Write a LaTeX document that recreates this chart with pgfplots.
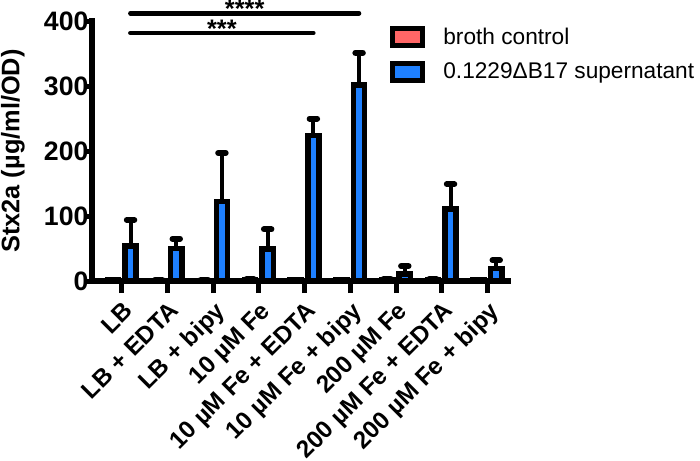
\documentclass[border=0pt]{standalone}
\usepackage{pgfplots}
\usepackage{pgfplotstable}
\pgfplotsset{compat=1.18}
\usepackage{fontspec}
\setmainfont{Liberation Sans}
\definecolor{brothred}{RGB}{255,102,102}
\definecolor{supblue}{RGB}{30,128,255}

\pgfplotstableread{
x y err
0 1.5 0.5
1 1.0 0.5
2 1.0 0.5
3 2.0 0.5
4 1.5 0.5
5 1.5 0.5
6 2.0 0.5
7 2.0 0.5
8 1.5 0.5
}\broth

\pgfplotstableread{
x y err
0 54 40
1 50 15
2 122 75
3 49 30.5
4 224 26
5 301.5 49.5
6 11 12
7 111 38
8 19 13
}\superdata

\pgfplotsset{boxlegend/.style={legend image code/.code={\draw[##1, line width=3.75pt, draw=black] (0pt,-6.25pt) rectangle (22.5pt,6.25pt); \path (34pt,0pt);}}}

\begin{document}
\begin{tikzpicture}
\begin{axis}[
  scale only axis, width=312pt, height=195pt,
  xmin=-0.65, xmax=8.45, ymin=0, ymax=400,
  axis x line=bottom, axis y line=left,
  axis line style={-, line width=4pt, black, line cap=rect},
  ybar, bar width=8.4pt,
  boxlegend,
  clip=false,
  /pgf/number format/assume math mode=true,
  xtick={0,...,8},
  xticklabels={LB, LB + EDTA, LB + bipy, 10 µM Fe, 10 µM Fe + EDTA, 10 µM Fe + bipy, 200 µM Fe, 200 µM Fe + EDTA, 200 µM Fe + bipy},
  xticklabel style={rotate=45, anchor=north east, font=\bfseries\fontsize{18.2}{20}\selectfont, inner sep=1pt, yshift=-3pt, xshift=-2.5pt},
  tick align=outside, major tick length=9pt,
  tick style={line width=3.75pt, black},
  ytick=\empty,
  extra y ticks={0,100,200,300,400},
  extra y tick style={major tick length=5.5pt},
  yticklabel style={font=\bfseries\fontsize{20}{22}\selectfont, inner sep=0pt, xshift=3pt},
  ylabel={Stx2a (µg/ml/OD)},
  ylabel style={font=\bfseries\fontsize{19}{21}\selectfont, at={(axis description cs:-0.19,0.5)}, anchor=center},
  legend style={draw=none, fill=none, at={(rel axis cs:0.716,0.985)}, anchor=north west, font=\fontsize{17}{20}\selectfont, row sep=8.5pt, inner sep=0pt},
  legend cell align=left,
  error bars/y dir=plus, error bars/y explicit,
  error bars/error bar style={line width=3pt, black},
  error bars/error mark options={rotate=90, line width=4.5pt, mark size=2.8pt, line cap=round, black},
]
\addplot[fill=brothred, draw=black, line width=4.1pt, bar shift=-6.6pt] table[x=x, y=y, y error=err] {\broth};
\addlegendentry{broth control}
\addplot[fill=supblue, draw=black, line width=4.1pt, bar shift=6.6pt] table[x=x, y=y, y error=err] {\superdata};
\addlegendentry{0.1229ΔB17 supernatant}

\draw[line width=3.5pt, line cap=round] (axis cs:0.19,381.5) -- (axis cs:4.19,381.5);
\node[anchor=base, yshift=-3.5pt, font=\bfseries\fontsize{19}{20}\selectfont, inner sep=0pt] at (axis cs:2.19,381.5) {***};
\draw[line width=3.5pt, line cap=round] (axis cs:0.19,412) -- (axis cs:5.19,412);
\node[anchor=base, yshift=-3.5pt, font=\bfseries\fontsize{19}{20}\selectfont, inner sep=0pt] at (axis cs:2.69,412) {****};

\coordinate (bbsw) at (rel axis cs:-0.2212,-0.6885);
\coordinate (bbne) at (rel axis cs:1.4615,1.0808);
\end{axis}
\pgfresetboundingbox
\useasboundingbox (bbsw) rectangle (bbne);
\end{tikzpicture}
\end{document}
